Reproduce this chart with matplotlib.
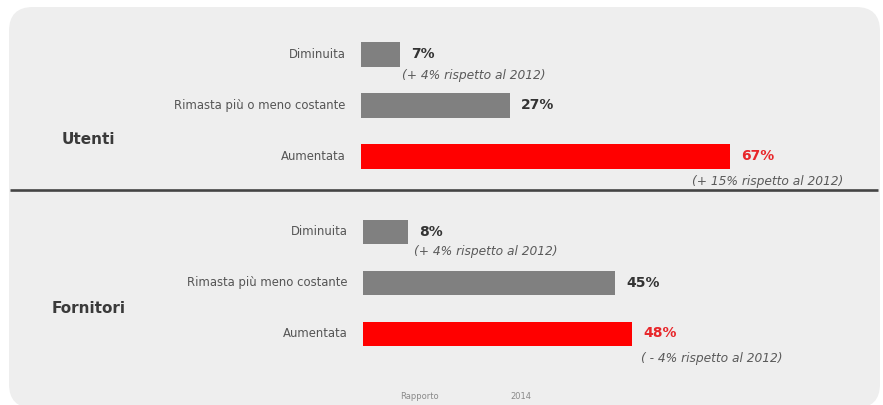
import matplotlib
matplotlib.use("Agg")
import matplotlib.pyplot as plt
from matplotlib.patches import FancyBboxPatch

# Survey data
categories_utenti = ["Diminuita", "Rimasta più o meno costante", "Aumentata"]
values_utenti = [7, 27, 67]
notes_utenti = ["(+ 4% rispetto al 2012)", None, "(+ 15% rispetto al 2012)"]

categories_fornitori = ["Diminuita", "Rimasta più meno costante", "Aumentata"]
values_fornitori = [8, 45, 48]
notes_fornitori = ["(+ 4% rispetto al 2012)", None, "( - 4% rispetto al 2012)"]

group_titles = ["Utenti", "Fornitori"]
footer_left = "Rapporto"
footer_right = "2014"

W, H = 883, 406
DPI = 100
fig = plt.figure(figsize=(W / DPI, H / DPI), dpi=DPI, facecolor="white")

GRAY_BAR = "#808080"
RED_BAR = "#ff0000"
RED_TXT = "#e8262a"
DARK = "#333333"
LABEL = "#555555"
NOTE = "#5a5a5a"
PANEL = "#eeeeee"

# Placement of the comparison notes (offset in points from the bar end)
NOTE_OFFSETS_UTENTI = [(2, -14.5), None, (-27, -17.5)]
NOTE_OFFSETS_FORNITORI = [(4.5, -13), None, (6.5, -17.5)]


def fx(px):
    return px / W


def fy(py):
    return 1 - py / H


# Backdrop layer in pixel units: rounded panel, separator, titles, footer
bg = fig.add_axes([0, 0, 1, 1], zorder=-1)
bg.set_xlim(0, W)
bg.set_ylim(H, 0)
bg.axis("off")
bg.add_patch(FancyBboxPatch((9, 8), 871, 401, boxstyle="round,pad=0,rounding_size=24",
                            facecolor=PANEL, edgecolor="none"))
bg.plot([10, 878], [191, 191], color="#444444", lw=1.9, solid_capstyle="butt")

bg.text(62, 140, group_titles[0], ha="left", va="center",
        fontsize=11, fontweight="bold", color="#3a3a3a")
bg.text(52, 309, group_titles[1], ha="left", va="center",
        fontsize=11, fontweight="bold", color="#3a3a3a")
bg.text(400, 397, footer_left, ha="left", va="center", fontsize=6, color="#8a8a8a")
bg.text(510, 397, footer_right, ha="left", va="center", fontsize=6, color="#8a8a8a")


def draw_group(left_px, top_px, bottom_px, px_per_unit, cats, vals, notes, note_offsets):
    right_px = left_px + 90 * px_per_unit
    ax = fig.add_axes([fx(left_px), fy(bottom_px), fx(right_px - left_px),
                       (bottom_px - top_px) / H])
    ax.set_xlim(0, 90)
    ax.set_ylim(2.5, -0.5)
    ax.axis("off")
    ypos = list(range(len(cats)))
    colors = [GRAY_BAR] * (len(cats) - 1) + [RED_BAR]
    ax.barh(ypos, vals, height=0.48, color=colors, zorder=2)
    for y, c, v, n, off, col in zip(ypos, cats, vals, notes, note_offsets, colors):
        ax.annotate(c, xy=(0, y), xytext=(-11, 1), textcoords="offset points",
                    ha="right", va="center", fontsize=8.4, color=LABEL,
                    annotation_clip=False)
        tcol = RED_TXT if col == RED_BAR else DARK
        ax.annotate(f"{v}%", xy=(v, y), xytext=(8.5, 1), textcoords="offset points",
                    ha="left", va="center", fontsize=10, fontweight="bold",
                    color=tcol, annotation_clip=False)
        if n:
            ax.annotate(n, xy=(v, y), xytext=off, textcoords="offset points",
                        ha="left", va="center", fontsize=8.8, style="italic",
                        color=NOTE, annotation_clip=False)
    return ax


draw_group(361, 30, 183, 5.5, categories_utenti, values_utenti, notes_utenti,
           NOTE_OFFSETS_UTENTI)
draw_group(363, 208, 360, 5.6, categories_fornitori, values_fornitori, notes_fornitori,
           NOTE_OFFSETS_FORNITORI)

fig.savefig("out.png", dpi=DPI, facecolor="white")
